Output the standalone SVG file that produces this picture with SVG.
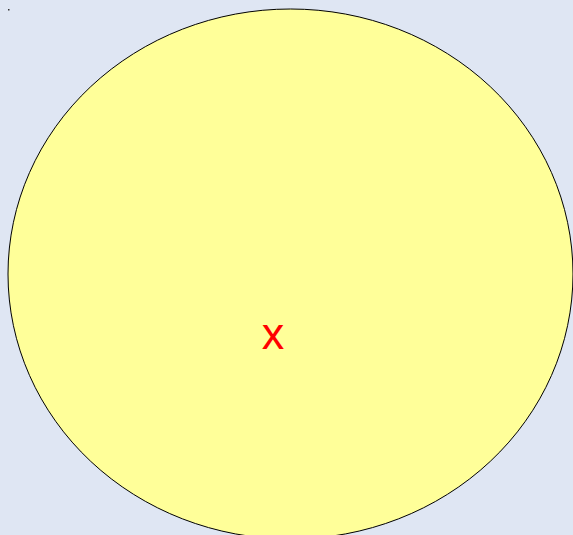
<svg xmlns="http://www.w3.org/2000/svg" width="573" height="535" viewBox="0 0 573 535">
<style>
.bg{fill:#dfe6f3}
.node{fill:#ffff99;stroke:#000;stroke-width:1}
.lbl{font-family:"Liberation Sans",Arial,sans-serif;font-size:45px;fill:#ff0000;text-anchor:middle}
</style>
<rect class="bg" x="0" y="0" width="573" height="535"/>
<rect x="8" y="9" width="1.5" height="1.5" fill="#333"/>
<g id="node-x">
<ellipse class="node" cx="290.5" cy="274" rx="282.5" ry="265"/>
<text class="lbl" x="273" y="349">x</text>
</g>
<g id="connectors"></g>
</svg>
